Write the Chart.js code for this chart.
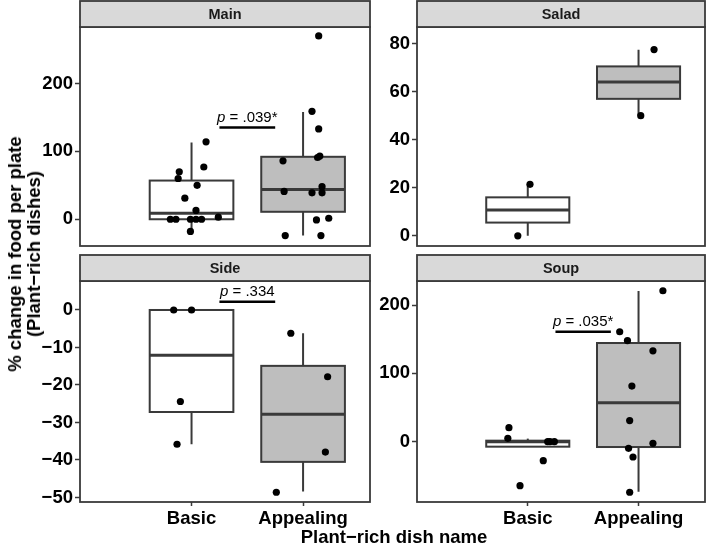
<!DOCTYPE html>
<html>
<head>
<meta charset="utf-8">
<script src="https://cdn.jsdelivr.net/npm/chart.js@4.4.1/dist/chart.umd.min.js"></script>
<style>
  body { margin: 0; background: #fff; width: 709px; height: 544px; position: relative; overflow: hidden;
         font-family: "Liberation Sans", Arial, sans-serif; }
  canvas { position: absolute; }
  .ytitle { position: absolute; left: 24px; top: 254px; transform: translate(-50%, -50%) rotate(-90deg);
            font-weight: bold; font-size: 18.5px; line-height: 19px; text-align: center; white-space: nowrap; color: #000; }
  .xtitle { position: absolute; left: 394px; top: 537px; transform: translate(-50%, -50%);
            font-weight: bold; font-size: 18.5px; white-space: nowrap; color: #000; }
</style>
</head>
<body>
<canvas id="main" width="354" height="250" style="left:20px;top:0px"></canvas>
<canvas id="salad" width="333" height="250" style="left:376px;top:0px"></canvas>
<canvas id="side" width="354" height="278" style="left:20px;top:252px"></canvas>
<canvas id="soup" width="333" height="278" style="left:376px;top:252px"></canvas>
<div class="ytitle">% change in food per plate<br>(Plant−rich dishes)</div>
<div class="xtitle">Plant−rich dish name</div>

<script>
const categories = ["Basic", "Appealing"];

// box stats: [lower whisker, q1, median, q3, upper whisker]
const mainBasicBox = [-18, 0, 9, 57, 113];
const mainAppealingBox = [-24, 11, 44, 92, 158];
const saladBasicBox = [0, 5.5, 10.7, 16, 21.4];
const saladAppealingBox = [50, 57, 64, 70.5, 77.4];
const sideBasicBox = [-35.8, -27.2, -12.1, 0, 0];
const sideAppealingBox = [-48.4, -40.5, -27.8, -14.9, -6.2];
const soupBasicBox = [-7.3, -7.3, 0, 1.5, 4.5];
const soupAppealingBox = [-73.2, -7.8, 57.1, 144.5, 220.6];

// jittered points (x = category position + jitter)
const mainBasicX = [1.13, 1.11, 0.89, 0.88, 1.05, 0.94, 1.04, 1.24, 0.81, 0.86, 0.99, 1.04, 1.09, 0.99];
const mainBasicY = [114, 77, 70, 60, 50, 31, 13, 3, 0, 0, 0, 0, 0, -18];
const mainAppealingX = [2.14, 2.08, 2.14, 1.82, 2.13, 2.15, 2.17, 2.17, 1.83, 2.08, 2.12, 2.23, 1.84, 2.16];
const mainAppealingY = [270, 159, 133, 86, 91, 93, 48, 39, 41, 39, -1, 1.5, -24, -24];
const saladBasicX = [1.02, 0.91];
const saladBasicY = [21.4, 0];
const saladAppealingX = [2.14, 2.02];
const saladAppealingY = [77.5, 50];
const sideBasicX = [0.84, 1.0, 0.9, 0.87];
const sideBasicY = [0, 0, -24.4, -35.8];
const sideAppealingX = [1.89, 2.22, 2.2, 1.76];
const sideAppealingY = [-6.2, -17.8, -37.9, -48.6];
const soupBasicX = [0.83, 0.82, 1.18, 1.2, 1.24, 1.14, 0.93];
const soupBasicY = [20.5, 5, 0, 0, 0, -27.8, -64.4];
const soupAppealingX = [2.22, 1.83, 1.9, 2.13, 1.94, 1.92, 2.13, 1.91, 1.95, 1.92];
const soupAppealingY = [221, 161, 148, 133, 81.5, 31, -2.4, -9.7, -22.4, -74];

// y tick labels
const mainTicks = [0, 100, 200];
const saladTicks = [0, 20, 40, 60, 80];
const sideTicks = [0, -10, -20, -30, -40, -50];
const soupTicks = [0, 100, 200];

// p-value labels and the height of their bar
const mainP = [".039*", 135];
const sideP = [".334", 2.2];
const soupP = [".035*", 161];

const FONT = '"Liberation Sans", Arial, sans-serif';
const EDGE = "#3a3a3a";

const facetPlugin = {
  id: "facet",
  beforeDatasetsDraw(chart, args, opts) {
    const { ctx } = chart;
    const x = chart.scales.x, y = chart.scales.y;
    const half = 0.375;
    ctx.save();
    opts.boxes.forEach((b, i) => {
      const s = b.stats;
      const cx = x.getPixelForValue(i + 1);
      const l = x.getPixelForValue(i + 1 - half), r = x.getPixelForValue(i + 1 + half);
      const lo = y.getPixelForValue(s[0]), q1 = y.getPixelForValue(s[1]);
      const md = y.getPixelForValue(s[2]), q3 = y.getPixelForValue(s[3]);
      const hi = y.getPixelForValue(s[4]);
      ctx.strokeStyle = EDGE;
      ctx.lineWidth = 2;
      ctx.beginPath();
      ctx.moveTo(cx, hi); ctx.lineTo(cx, q3);
      ctx.moveTo(cx, q1); ctx.lineTo(cx, lo);
      ctx.stroke();
      ctx.fillStyle = b.fill;
      ctx.fillRect(l, q3, r - l, q1 - q3);
      ctx.strokeRect(l, q3, r - l, q1 - q3);
      ctx.lineWidth = 3;
      ctx.beginPath();
      ctx.moveTo(l, md); ctx.lineTo(r, md);
      ctx.stroke();
    });
    ctx.restore();
  },
  afterDraw(chart, args, opts) {
    const { ctx, chartArea: a } = chart;
    const x = chart.scales.x, y = chart.scales.y;
    ctx.save();
    // p-value bar
    if (opts.p) {
      const x1 = x.getPixelForValue(1.25), x2 = x.getPixelForValue(1.75);
      const py = y.getPixelForValue(opts.p[1]);
      ctx.strokeStyle = "#000";
      ctx.lineWidth = 2.5;
      ctx.beginPath();
      ctx.moveTo(x1, py); ctx.lineTo(x2, py);
      ctx.stroke();
      const f1 = "italic 15px " + FONT, f2 = "15px " + FONT;
      ctx.font = f1; const w1 = ctx.measureText("p").width;
      ctx.font = f2; const rest = " = " + opts.p[0]; const w2 = ctx.measureText(rest).width;
      const sx = (x1 + x2) / 2 - (w1 + w2) / 2;
      ctx.fillStyle = "#000";
      ctx.textBaseline = "alphabetic";
      ctx.textAlign = "left";
      ctx.font = f1; ctx.fillText("p", sx, py - 6);
      ctx.font = f2; ctx.fillText(rest, sx + w1, py - 6);
    }
    // panel border
    ctx.strokeStyle = EDGE;
    ctx.lineWidth = 1.8;
    ctx.strokeRect(a.left, a.top, a.right - a.left, a.bottom - a.top);
    // strip
    const sh = 26;
    ctx.fillStyle = "#d9d9d9";
    ctx.fillRect(a.left, a.top - sh, a.right - a.left, sh);
    ctx.strokeRect(a.left, a.top - sh, a.right - a.left, sh);
    ctx.fillStyle = "#1a1a1a";
    ctx.font = "bold 14.5px " + FONT;
    ctx.textAlign = "center";
    ctx.textBaseline = "middle";
    ctx.fillText(opts.title, (a.left + a.right) / 2, a.top - sh / 2 + 1);
    ctx.restore();
  }
};

function toPoints(xs, ys) {
  return xs.map((v, i) => ({ x: v, y: ys[i] }));
}

function makeChart(id, c) {
  return new Chart(document.getElementById(id), {
    type: "scatter",
    data: {
      datasets: [
        { data: toPoints(c.basicX, c.basicY) },
        { data: toPoints(c.appX, c.appY) }
      ]
    },
    options: {
      responsive: false,
      animation: false,
      events: [],
      layout: { padding: { top: c.padTop, bottom: c.showX ? 0 : 2, left: 0, right: 2 } },
      elements: { point: { radius: 3.6, backgroundColor: "#000", borderWidth: 0 } },
      plugins: {
        legend: { display: false },
        tooltip: { enabled: false },
        facet: {
          title: c.title,
          p: c.p,
          boxes: [
            { stats: c.basicBox, fill: "#ffffff" },
            { stats: c.appBox, fill: "#bebebe" }
          ]
        }
      },
      scales: {
        x: {
          type: "linear",
          min: 0,
          max: 2.6,
          display: c.showX,
          border: { display: false },
          grid: { drawOnChartArea: false, drawTicks: true, tickLength: 4, tickColor: EDGE, tickWidth: 1.5 },
          ticks: {
            padding: 2,
            color: "#000",
            font: { family: FONT, size: 18.5, weight: "bold" },
            callback: (v) => categories[v - 1]
          },
          afterBuildTicks: (s) => { s.ticks = [1, 2].map((v) => ({ value: v })); },
          afterFit: (s) => {
            if (c.showX) s.height = 28;
            s.paddingLeft = 0; s.paddingRight = 0;
          }
        },
        y: {
          min: c.yMin,
          max: c.yMax,
          border: { display: false },
          grid: { drawOnChartArea: false, drawTicks: true, tickLength: 5, tickColor: EDGE, tickWidth: 1.5 },
          ticks: {
            padding: 2,
            color: "#000",
            font: { family: FONT, size: 18.5, weight: "bold" },
            callback: (v) => String(v).replace("-", "\u2212")
          },
          afterBuildTicks: (s) => { s.ticks = c.ticks.map((v) => ({ value: v })); },
          afterFit: (s) => {
            s.width = c.yWidth;
            s.paddingTop = 0; s.paddingBottom = 0;
          }
        }
      }
    },
    plugins: [facetPlugin]
  });
}

makeChart("main", {
  title: "Main", padTop: 27, showX: false, yWidth: 60, yMin: -39.4, yMax: 283.2, ticks: mainTicks,
  basicX: mainBasicX, basicY: mainBasicY, appX: mainAppealingX, appY: mainAppealingY,
  basicBox: mainBasicBox, appBox: mainAppealingBox, p: mainP
});
makeChart("salad", {
  title: "Salad", padTop: 27, showX: false, yWidth: 41, yMin: -4.25, yMax: 86.9, ticks: saladTicks,
  basicX: saladBasicX, basicY: saladBasicY, appX: saladAppealingX, appY: saladAppealingY,
  basicBox: saladBasicBox, appBox: saladAppealingBox, p: null
});
makeChart("side", {
  title: "Side", padTop: 29, showX: true, yWidth: 60, yMin: -51.2, yMax: 7.73, ticks: sideTicks,
  basicX: sideBasicX, basicY: sideBasicY, appX: sideAppealingX, appY: sideAppealingY,
  basicBox: sideBasicBox, appBox: sideAppealingBox, p: sideP
});
makeChart("soup", {
  title: "Soup", padTop: 29, showX: true, yWidth: 41, yMin: -88.3, yMax: 235.3, ticks: soupTicks,
  basicX: soupBasicX, basicY: soupBasicY, appX: soupAppealingX, appY: soupAppealingY,
  basicBox: soupBasicBox, appBox: soupAppealingBox, p: soupP
});
</script>
</body>
</html>
